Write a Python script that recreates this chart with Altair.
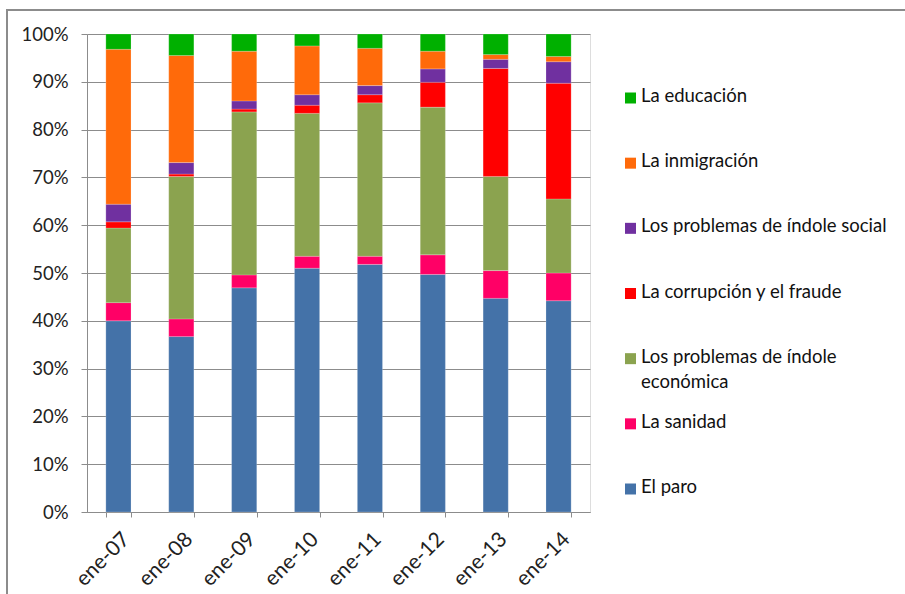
import altair as alt
import pandas as pd

categorias = ["ene-07", "ene-08", "ene-09", "ene-10", "ene-11", "ene-12", "ene-13", "ene-14"]

series = ["El paro", "La sanidad", "Los problemas de índole económica",
          "La corrupción y el fraude", "Los problemas de índole social",
          "La inmigración", "La educación"]

# legend label text (the long one wraps onto two lines, as in the reference)
etiquetas = ["El paro", "La sanidad", "Los problemas de índole\neconómica",
             "La corrupción y el fraude", "Los problemas de índole social",
             "La inmigración", "La educación"]

el_paro      = [40.0, 36.7, 46.9, 51.0, 51.8, 49.7, 44.7, 44.2]
la_sanidad   = [3.8, 3.7, 2.7, 2.5, 1.7, 4.1, 5.8, 5.8]
economica    = [15.6, 29.8, 34.1, 29.9, 32.1, 30.9, 19.7, 15.5]
corrupcion   = [1.3, 0.5, 0.6, 1.7, 1.7, 5.2, 22.6, 24.2]
social       = [3.7, 2.4, 1.7, 2.2, 1.9, 2.8, 1.9, 4.5]
inmigracion  = [32.4, 22.4, 10.4, 10.2, 7.8, 3.7, 1.0, 1.1]
educacion    = [3.2, 4.5, 3.6, 2.5, 3.0, 3.6, 4.3, 4.7]

colores = ["#4472A8", "#FF0066", "#8BA34F", "#FF0000", "#7030A0", "#FF6A0A", "#00B000"]

valores = [el_paro, la_sanidad, economica, corrupcion, social, inmigracion, educacion]

rows = []
for i, (s, vals) in enumerate(zip(series, valores)):
    for c, v in zip(categorias, vals):
        rows.append({"fecha": c, "serie": s, "valor": v, "orden": i})
df = pd.DataFrame(rows)

df_leg = pd.DataFrame({"serie": series, "etiqueta": etiquetas})

FONT = "Lato"
GRIS = "#8c8c8c"

color_scale = alt.Scale(domain=series, range=colores)

bars = alt.Chart(df).mark_bar(stroke="white", strokeWidth=0.5, strokeOpacity=0.4).encode(
    x=alt.X("fecha:N", sort=categorias, title=None,
            scale=alt.Scale(paddingInner=0.6, paddingOuter=0.3),
            axis=alt.Axis(labelAngle=-45, tickBand="extent", tickSize=5,
                          labelFontSize=21, labelFont=FONT, labelColor="#222",
                          domainColor=GRIS, tickColor=GRIS,
                          labelPadding=11, grid=False)),
    y=alt.Y("valor:Q", stack="normalize", title=None,
            scale=alt.Scale(domain=[0, 1]),
            axis=alt.Axis(format=".0%", values=[i / 10 for i in range(11)],
                          tickSize=6, labelPadding=13, labelFontSize=18.5,
                          labelFont=FONT, labelColor="#222",
                          domainColor=GRIS, tickColor=GRIS,
                          gridColor=GRIS, gridWidth=1)),
    color=alt.Color("serie:N", scale=color_scale, legend=None),
    order=alt.Order("orden:Q", sort="ascending"),
)

leg_y = alt.Y("serie:N", sort=series[::-1], title=None, axis=None,
              scale=alt.Scale(type="point", range=[64, 455], padding=0))

leg_sq = alt.Chart(df_leg).mark_square(size=121, opacity=1).encode(
    x=alt.value(543.5), y=leg_y,
    color=alt.Color("serie:N", scale=color_scale, legend=None),
)
leg_txt = alt.Chart(df_leg).mark_text(
    align="left", baseline="top", dy=-11, font=FONT, fontSize=18.5,
    color="#111", lineBreak="\n", lineHeight=25,
).encode(x=alt.value(554), y=leg_y, text="etiqueta:N")

frame = alt.Chart(pd.DataFrame({"k": [0]})).mark_rect(
    fill=None, stroke=GRIS, strokeWidth=2
).encode(x=alt.value(-80), x2=alt.value(830), y=alt.value(-24), y2=alt.value(600))

chart = alt.layer(frame, bars, leg_sq, leg_txt).resolve_scale(y="independent").properties(
    width=503, height=478,
    autosize=alt.AutoSizeParams(type="none"),
    padding={"left": 87, "top": 34, "right": 315, "bottom": 82},
).configure_view(stroke=None).configure(background="white")

chart.save("out.html", embed_options={"renderer": "svg", "actions": False})
